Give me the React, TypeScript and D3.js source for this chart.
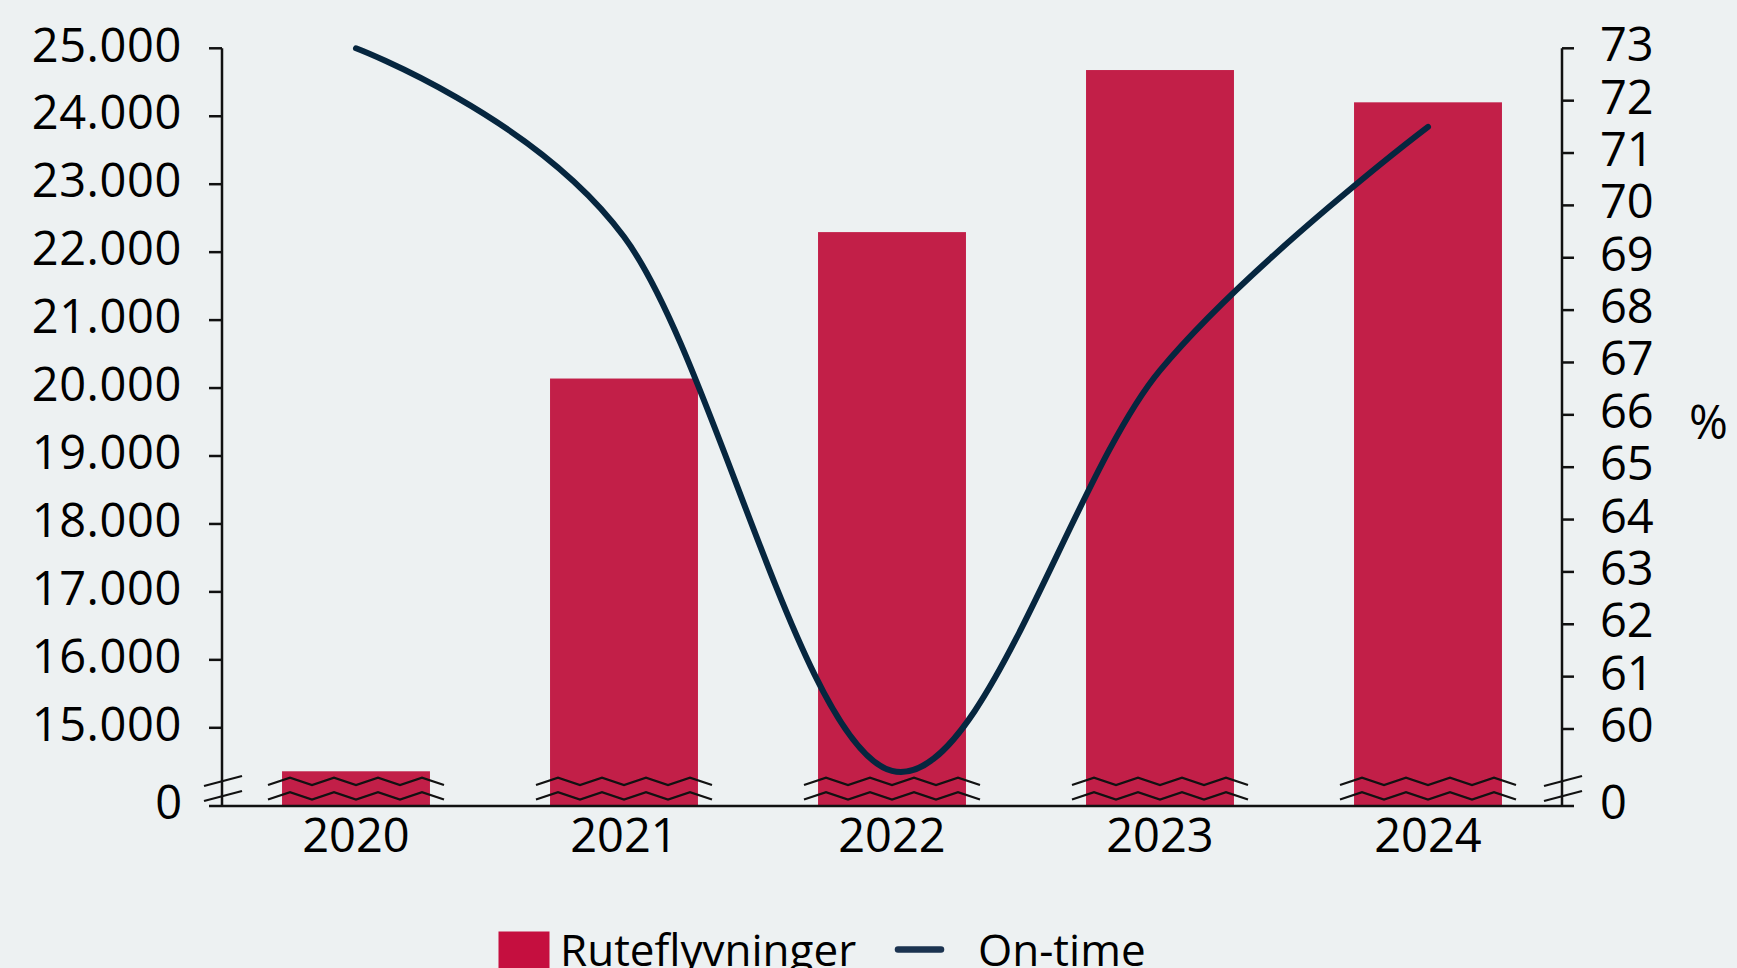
import React from "react";
import * as d3 from "d3";

const years = ["2020", "2021", "2022", "2023", "2024"];
const flights = [14360, 20140, 22295, 24680, 24205];
const onTime = [73.0, 69.4, 59.2, 66.85, 71.5];
const leftTicks = [15000, 16000, 17000, 18000, 19000, 20000, 21000, 22000, 23000, 24000, 25000];
const rightTicks = [60, 61, 62, 63, 64, 65, 66, 67, 68, 69, 70, 71, 72, 73];
const breakLabel = "0";
const rightUnit = "%";
const legendLabels = ["Ruteflyvninger", "On-time"];

const W = 1737;
const H = 968;
const FONT = "'Open Sans', 'Noto Sans', sans-serif";
const BG = "#EDF1F2";
const BAR = "#C21F48";
const LINE = "#06263F";

const locale = d3.formatLocale({ decimal: ",", thousands: ".", grouping: [3], currency: ["", ""] });
const fmt = locale.format(",d");

export default function App() {
  const left = 222;
  const right = 1562;
  const top = 48.3;
  const baseY = 806;

  const x = d3.scaleBand<string>().domain(years).range([left, right]).paddingInner(0.448).paddingOuter(0.224);
  const yL = d3.scaleLinear().domain([15000, 25000]).range([727.8, top]);
  const yR = d3.scaleLinear().domain([60, 73]).range([729, top]);

  const cx = (y: string) => (x(y) as number) + x.bandwidth() / 2;

  const linePath = d3
    .line<number>()
    .x((_, i) => cx(years[i]))
    .y((d) => yR(d))
    .curve(d3.curveCardinal.tension(0))(onTime) as string;

  const zig = (c: number, y0: number) => {
    const half = 22;
    const n = 8;
    const start = c - (half * n) / 2;
    const pts: [number, number][] = [];
    for (let i = 0; i <= n; i++) pts.push([start + i * half, i % 2 === 0 ? y0 : y0 - 7.3]);
    return d3.line()(pts) as string;
  };

  const axisBreak = (ax: number) => (
    <g stroke="#111" strokeWidth={2.3}>
      <line x1={ax - 18} y1={786} x2={ax + 20} y2={776} />
      <line x1={ax - 18} y1={801} x2={ax + 20} y2={791} />
    </g>
  );

  return (
    <svg width={W} height={H} style={{ position: "absolute", left: 0, top: 0 }} fontFamily={FONT}>
      <rect x={0} y={0} width={W} height={H} fill={BG} />

      {years.map((yr, i) => (
        <rect key={yr} x={x(yr)} y={yL(flights[i])} width={x.bandwidth()} height={baseY - yL(flights[i])} fill={BAR} />
      ))}

      {years.map((yr) => (
        <g key={"z" + yr} fill="none" stroke="#111" strokeWidth={2.3}>
          <path d={zig(cx(yr), 785)} />
          <path d={zig(cx(yr), 799.5)} />
        </g>
      ))}

      <path d={linePath} fill="none" stroke={LINE} strokeWidth={6} strokeLinecap="round" />

      {/* axes */}
      <g stroke="#111" strokeWidth={2.5}>
        <line x1={left} y1={top} x2={left} y2={baseY} />
        <line x1={right} y1={top} x2={right} y2={baseY} />
        <line x1={209} y1={baseY} x2={1574} y2={baseY} />
        {leftTicks.map((t) => (
          <line key={"lt" + t} x1={209} x2={left} y1={yL(t)} y2={yL(t)} />
        ))}
        {rightTicks.map((t) => (
          <line key={"rt" + t} x1={right} x2={1574} y1={yR(t)} y2={yR(t)} />
        ))}
      </g>
      {axisBreak(left)}
      {axisBreak(right)}

      <g fontSize={47} fill="#000">
        {leftTicks.map((t) => (
          <text key={"ll" + t} x={182} y={yL(t) + 13.2} textAnchor="end" style={{ letterSpacing: "0.6px" }}>
            {fmt(t)}
          </text>
        ))}
        <text x={182} y={baseY + 12.5} textAnchor="end">{breakLabel}</text>
        {rightTicks.map((t) => (
          <text key={"rl" + t} x={1600} y={yR(t) + 13} textAnchor="start">
            {t}
          </text>
        ))}
        <text x={1600} y={baseY + 12.5} textAnchor="start">{breakLabel}</text>
        <text x={1689} y={439}>{rightUnit}</text>
        {years.map((yr) => (
          <text key={"xl" + yr} x={cx(yr)} y={851.5} textAnchor="middle">
            {yr}
          </text>
        ))}
      </g>

      {/* legend */}
      <rect x={498.5} y={931.5} width={51} height={40} fill="#C50F3F" />
      <text x={560} y={966} fontSize={44}>
        {legendLabels[0]}
      </text>
      <line x1={898} y1={949.5} x2={941} y2={949.5} stroke="#1B3350" strokeWidth={6.5} strokeLinecap="round" />
      <text x={978} y={966} fontSize={44}>
        {legendLabels[1]}
      </text>
    </svg>
  );
}
